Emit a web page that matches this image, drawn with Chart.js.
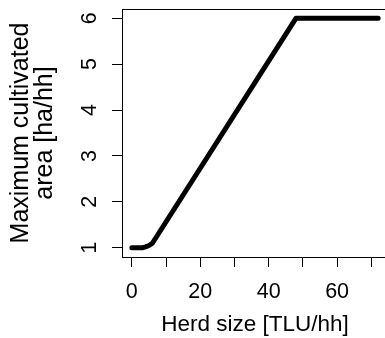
<!DOCTYPE html>
<html>
<head>
<meta charset="utf-8">
<script src="https://cdn.jsdelivr.net/npm/chart.js@4/dist/chart.umd.min.js"></script>
<style>
html,body{margin:0;padding:0;background:#fff;overflow:hidden;}
#wrap{width:400px;height:338px;position:relative;}
</style>
</head>
<body>
<div id="wrap"><canvas id="c"></canvas></div>
<script>
// Data
const herdSize = [0, 3, 4, 5, 6, 48, 72];
const maxArea  = [1, 1, 1.02, 1.05, 1.1, 6, 6];
const xTickValues = [0, 10, 20, 30, 40, 50, 60, 70];
const xTickLabels = ['0', '', '20', '', '40', '', '60', ''];
const yTickValues = [1, 2, 3, 4, 5, 6];
const yTickLabels = ['1', '2', '3', '4', '5', '6'];
const xTitle = 'Herd size [TLU/hh]';
const yTitle = ['Maximum cultivated', 'area [ha/hh]'];

Chart.defaults.font.family = "'Liberation Sans', Arial, sans-serif";
Chart.defaults.color = '#000';

const boxPlugin = {
  id: 'box',
  afterDraw(chart) {
    const a = chart.chartArea, ctx = chart.ctx;
    ctx.save();
    ctx.strokeStyle = '#000';
    ctx.lineWidth = 1;
    ctx.strokeRect(Math.round(a.left) + 0.5, Math.round(a.top) + 0.5,
                   Math.round(a.right - a.left), Math.round(a.bottom - a.top));
    ctx.restore();
  }
};

new Chart(document.getElementById('c'), {
  type: 'line',
  data: {
    datasets: [{
      data: herdSize.map((x, i) => ({x: x, y: maxArea[i]})),
      borderColor: '#000',
      borderWidth: 5,
      borderCapStyle: 'round',
      borderJoinStyle: 'round',
      pointRadius: 0,
      tension: 0,
      fill: false
    }]
  },
  options: {
    responsive: true,
    maintainAspectRatio: false,
    animation: false,
    events: [],
    layout: {padding: {top: 9, right: 12, left: 0, bottom: 0}},
    plugins: {legend: {display: false}, tooltip: {enabled: false}},
    scales: {
      x: {
        type: 'linear',
        min: -2.88, max: 74.88,
        afterBuildTicks: (ax) => { ax.ticks = xTickValues.map(v => ({value: v})); },
        afterFit: (ax) => { ax.height = 81; ax.paddingLeft = 0; ax.paddingRight = 0; },
        ticks: {
          autoSkip: false,
          maxRotation: 0,
          padding: 12,
          font: {size: 21.5},
          callback: (v) => { const i = xTickValues.indexOf(v); return i >= 0 ? xTickLabels[i] : ''; }
        },
        grid: {display: true, drawOnChartArea: false, drawTicks: true, tickLength: 10, color: '#000', lineWidth: 1},
        border: {display: true, color: '#000', width: 1},
        title: {display: true, text: xTitle, font: {size: 22.5, lineHeight: 1.0}, padding: {top: 0, bottom: 1.5}}
      },
      y: {
        type: 'linear',
        min: 0.8, max: 6.2,
        afterBuildTicks: (ax) => { ax.ticks = yTickValues.map(v => ({value: v})); },
        afterFit: (ax) => { ax.width = 122; ax.paddingTop = 0; ax.paddingBottom = 0; },
        ticks: {
          autoSkip: false,
          minRotation: 90, maxRotation: 90,
          crossAlign: 'center',
          padding: 16,
          font: {size: 21.5},
          callback: (v) => { const i = yTickValues.indexOf(v); return i >= 0 ? yTickLabels[i] : ''; }
        },
        grid: {display: true, drawOnChartArea: false, drawTicks: true, tickLength: 10, color: '#000', lineWidth: 1},
        border: {display: true, color: '#000', width: 1},
        title: {display: true, text: yTitle, font: {size: 25, lineHeight: 0.97}, padding: {top: 8.6, bottom: 0}}
      }
    }
  },
  plugins: [boxPlugin]
});
</script>
</body>
</html>
